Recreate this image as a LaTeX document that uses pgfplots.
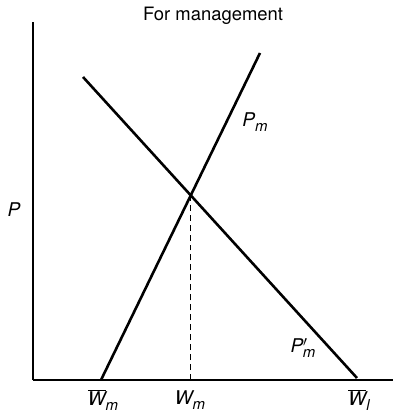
\documentclass[border=0pt]{standalone}
\usepackage{fontspec}
\setmainfont{TeX Gyre Heros}
\usepackage{pgfplots}
\pgfplotsset{compat=1.18}
\newcommand{\lab}[2]{\fontsize{19}{20}\selectfont\itshape #1\raisebox{-0.3em}{\fontsize{15}{16}\selectfont #2}}
\begin{document}
\begin{tikzpicture}
\begin{axis}[
  scale only axis, width=360bp, height=358bp,
  xmin=0, xmax=360, ymin=0, ymax=358,
  axis x line=bottom, axis y line=left,
  axis line style={-, line width=1.4pt},
  xtick=\empty, ytick=\empty,
  clip=false,
]
\addplot[black, line width=2.6pt] coordinates {(68,0) (227,327)};
\addplot[black, line width=2.6pt] coordinates {(50,303) (324,2)};
\addplot[black, line width=1.2pt, dash pattern=on 6pt off 4pt] coordinates {(157.8,0) (157.8,184.7)};
\node at (axis cs:180,364) {\fontsize{18.5}{20}\selectfont For management};
\node at (axis cs:-19,170) {\fontsize{19}{20}\selectfont\itshape P};
\node at (axis cs:222,258) {\lab{P}{m}};
\node at (axis cs:270,32) {\lab{P$'$\kern-0.25em}{m}};
\node at (axis cs:70,-20) {\lab{$\overline{\mbox{W}}$}{m}};
\node at (axis cs:157,-20) {\lab{W}{m}};
\node at (axis cs:326,-20) {\lab{$\overline{\mbox{W}}$}{l}};
\path (axis cs:-33,-37) rectangle (axis cs:362,380);
\end{axis}
\end{tikzpicture}
\end{document}
